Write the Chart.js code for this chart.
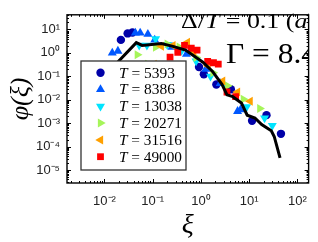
<!DOCTYPE html>
<html><head><meta charset="utf-8">
<script src="https://cdn.jsdelivr.net/npm/chart.js@4/dist/chart.umd.min.js"></script>
<style>html,body{margin:0;padding:0;background:#fff;overflow:hidden}#wrap{width:318px;height:242px}</style>
</head><body><div id="wrap"><canvas id="c" width="318" height="242"></canvas></div>
<script>
// ---- data ----
const xTickValues = [0.01, 0.1, 1, 10, 100];
const xTickLabels = ['10⁻²', '10⁻¹', '10⁰', '10¹', '10²'];
const yTickValues = [1e-5, 1e-4, 1e-3, 1e-2, 1e-1, 1, 10];
const yTickLabels = ['10⁻⁵', '10⁻⁴', '10⁻³', '10⁻²', '10⁻¹', '10⁰', '10¹'];
const seriesNames = ['5393', '8386', '13038', '20271', '31516', '49000'];

const x5393 = [0.0219, 0.0302, 0.038, 0.912, 1.15, 2.09, 4.17, 11.5, 22.9, 45.7];
const y5393 = [3.6, 6.8, 7.4, 0.25, 0.123, 0.045, 0.028, 0.00126, 0.0022, 0.00035];
const x8386 = [0.0145, 0.019, 0.0437, 0.055, 0.0794, 0.11, 0.251, 0.501, 1.26, 2.51, 5.75, 6.61];
const y8386 = [1.0, 1.2, 7.1, 7.1, 6.3, 3.6, 1.78, 0.89, 0.2, 0.05, 0.0032, 0.0038];
const x13038 = [0.0525, 0.0759, 0.115, 0.2, 0.398, 0.794, 1.58, 3.16, 8.91, 20.9, 30.2];
const y13038 = [2.1, 2.1, 4.0, 2.24, 1.26, 0.447, 0.1, 0.0355, 0.005, 0.00166, 0.00079];
const x20271 = [0.0479, 0.0794, 0.115, 0.2, 0.355, 0.794, 1.78, 3.55, 7.59, 16.6];
const y20271 = [0.83, 0.33, 1.74, 2.4, 1.78, 0.63, 0.141, 0.04, 0.0105, 0.0042];
const x31516 = [0.107, 0.151, 0.263, 0.525, 0.708, 1.41, 2.82, 5.75, 10.5];
const y31516 = [0.33, 1.91, 2.09, 2.82, 1.12, 0.282, 0.063, 0.0214, 0.0087];
const x49000 = [0.229, 0.331, 0.457, 0.631, 0.832, 1.38, 1.82, 2.29, 3.47, 5.25];
const y49000 = [0.66, 1.05, 2.09, 1.58, 1.32, 0.437, 0.38, 0.33, 0.0214, 0.0135];

const lineX = [0.0158, 0.0457, 0.0603, 0.151, 0.263, 0.479, 1.1, 1.74, 2.75, 3.47, 4.57, 6.92, 9.12, 13.2, 18.2, 28.8, 33.1, 43.7];
const lineY = [0.275, 2.75, 2.09, 2.51, 1.91, 1.32, 0.398, 0.162, 0.0447, 0.0162, 0.0135, 0.00724, 0.00219, 0.00166, 0.00087, 0.00047, 0.00027, 0.000033];

// ---- styles ----
const styles = [
  {color: '#0000a8', shape: 'circle', rot: 0, r: 4.2},
  {color: '#0058ff', shape: 'triangle', rot: 0, r: 5.2},
  {color: '#00e4ff', shape: 'triangle', rot: 180, r: 5.2},
  {color: '#a6f55a', shape: 'triangle', rot: 90, r: 5.2},
  {color: '#ffa000', shape: 'triangle', rot: 270, r: 5.2},
  {color: '#ff0000', shape: 'rect', rot: 0, r: 4.8}
];
const xs = [x5393, x8386, x13038, x20271, x31516, x49000];
const ys = [y5393, y8386, y13038, y20271, y31516, y49000];
const pts = (a, b) => a.map((v, i) => ({x: v, y: b[i]}));

const datasets = [{
  type: 'line', label: 'fit', data: pts(lineX, lineY), borderColor: '#000', borderWidth: 3,
  pointRadius: 0, fill: false, tension: 0, order: 0
}];
seriesNames.forEach((n, i) => {
  const s = styles[i];
  datasets.push({
    type: 'scatter', label: 'T = ' + n, data: pts(xs[i], ys[i]),
    pointStyle: s.shape, rotation: s.rot, pointRadius: s.r, pointHoverRadius: s.r,
    backgroundColor: s.color, borderColor: s.color, borderWidth: 0, order: 6 - i
  });
});

function marker(ctx, shape, rot, r, x, y, color) {
  ctx.save();
  ctx.fillStyle = color;
  ctx.beginPath();
  if (shape === 'circle') {
    ctx.arc(x, y, r, 0, Math.PI * 2);
  } else if (shape === 'rect') {
    const s = Math.SQRT1_2 * r;
    ctx.rect(x - s, y - s, 2 * s, 2 * s);
  } else {
    let a = rot * Math.PI / 180;
    ctx.moveTo(x + Math.sin(a) * r, y - Math.cos(a) * r);
    a += 2 * Math.PI / 3;
    ctx.lineTo(x + Math.sin(a) * r, y - Math.cos(a) * r);
    a += 2 * Math.PI / 3;
    ctx.lineTo(x + Math.sin(a) * r, y - Math.cos(a) * r);
    ctx.closePath();
  }
  ctx.fill();
  ctx.restore();
}

// draw a run of [text, font] pieces, squeezed/stretched to span x0..x1
function fitRun(ctx, pieces, x0, x1, baseline) {
  let W = 0;
  const ws = pieces.map(p => { ctx.font = p[1]; const w = ctx.measureText(p[0]).width; W += w; return w; });
  const sx = (x1 - x0) / W;
  ctx.save();
  ctx.translate(x0, baseline);
  ctx.scale(sx, 1);
  let x = 0;
  pieces.forEach((p, i) => { ctx.font = p[1]; ctx.fillText(p[0], x, 0); x += ws[i]; });
  ctx.restore();
}

const SERIF = '"Liberation Serif", "Times New Roman", serif';

const overlay = {
  id: 'overlay',
  afterDatasetsDraw(chart) {
    const ctx = chart.ctx;
    ctx.save();
    ctx.fillStyle = '#fff';
    ctx.fillRect(81, 61, 105, 109);
    ctx.strokeStyle = '#333';
    ctx.lineWidth = 1.3;
    ctx.strokeRect(81, 61, 105, 109);
    ctx.textBaseline = 'alphabetic';
    ctx.textAlign = 'left';
    seriesNames.forEach((n, i) => {
      const s = styles[i];
      const cy = 72.7 + i * 16.8;
      marker(ctx, s.shape, s.rot, s.r, 100.5, cy, s.color);
      ctx.fillStyle = '#000';
      const up = '14px ' + SERIF, it = 'italic 14px ' + SERIF;
      const end = n.length === 5 ? 182 : 175;
      fitRun(ctx, [['T', it], [' = ', up], [n, up]], 119, end, cy + 4.8);
    });
    ctx.restore();
  },
  afterDraw(chart) {
    const ctx = chart.ctx;
    const a = chart.chartArea;
    const xS = chart.scales.x, yS = chart.scales.y;
    ctx.save();
    ctx.beginPath();
    ctx.rect(0, 0, a.right, chart.height);
    ctx.clip();
    ctx.fillStyle = '#000';
    ctx.textBaseline = 'alphabetic';
    ctx.textAlign = 'left';
    const up = '22px ' + SERIF, it = 'italic 22px ' + SERIF;
    fitRun(ctx, [['Δ/', up], ['T', it], [' = ', up], ['0.1', up], [' (', up], ['a', it], [')', up]], 181, 316, 27.5);
    const g = '29px ' + SERIF;
    fitRun(ctx, [['Γ = 8.4', g]], 226, 317, 63);
    ctx.restore();
    // axes box and inward ticks
    ctx.save();
    ctx.strokeStyle = '#000';
    ctx.lineWidth = 1.4;
    ctx.strokeRect(a.left, a.top, a.right - a.left, a.bottom - a.top);
    ctx.lineWidth = 1;
    ctx.beginPath();
    for (let e = -3; e <= 2; e++) {
      for (let m = 1; m <= 9; m++) {
        const v = m * Math.pow(10, e);
        if (v < xS.min || v > xS.max) continue;
        const px = Math.round(xS.getPixelForValue(v)) + 0.5;
        const L = m === 1 ? 4 : 2;
        ctx.moveTo(px, a.bottom); ctx.lineTo(px, a.bottom - L);
        ctx.moveTo(px, a.top); ctx.lineTo(px, a.top + L);
      }
    }
    for (let e = -6; e <= 1; e++) {
      for (let m = 1; m <= 9; m++) {
        const v = m * Math.pow(10, e);
        if (v < yS.min || v > yS.max) continue;
        const py = Math.round(yS.getPixelForValue(v)) + 0.5;
        const L = m === 1 ? 4 : 2;
        ctx.moveTo(a.left, py); ctx.lineTo(a.left + L, py);
        ctx.moveTo(a.right, py); ctx.lineTo(a.right - L, py);
      }
    }
    ctx.stroke();
    ctx.restore();
  }
};

new Chart(document.getElementById('c'), {
  type: 'scatter',
  data: {datasets},
  options: {
    responsive: false, animation: false, devicePixelRatio: 1,
    layout: {padding: {top: 2, right: 3, left: 0, bottom: 0}},
    plugins: {legend: {display: false}, tooltip: {enabled: false}},
    scales: {
      x: {
        type: 'logarithmic', position: 'bottom', min: 0.00167, max: 171,
        grid: {display: false, drawTicks: false}, border: {display: false},
        afterBuildTicks: s => { s.ticks = xTickValues.map(v => ({value: v})); },
        afterFit: s => { s.height = 59; },
        ticks: {autoSkip: false, maxRotation: 0, padding: 11, color: '#222',
          font: {family: '"Liberation Sans", Arial', size: 13},
          callback: (v, i) => xTickLabels[i]},
        title: {display: true, text: 'ξ', color: '#000', padding: {top: 0, bottom: 0},
          font: {family: SERIF, style: 'italic', size: 28}}
      },
      y: {
        type: 'logarithmic', position: 'left', min: 2.78e-6, max: 42.4,
        grid: {display: false, drawTicks: false}, border: {display: false},
        afterBuildTicks: s => { s.ticks = yTickValues.map(v => ({value: v})); },
        afterFit: s => { s.width = 67; },
        ticks: {autoSkip: false, padding: 7, color: '#222',
          font: {family: '"Liberation Sans", Arial', size: 13},
          callback: (v, i) => yTickLabels[i]},
        title: {display: true, text: 'φ(ξ)', color: '#000', padding: {top: 6, bottom: 0},
          font: {family: SERIF, style: 'italic', size: 26}}
      }
    }
  },
  plugins: [overlay]
});
</script>
</body></html>
